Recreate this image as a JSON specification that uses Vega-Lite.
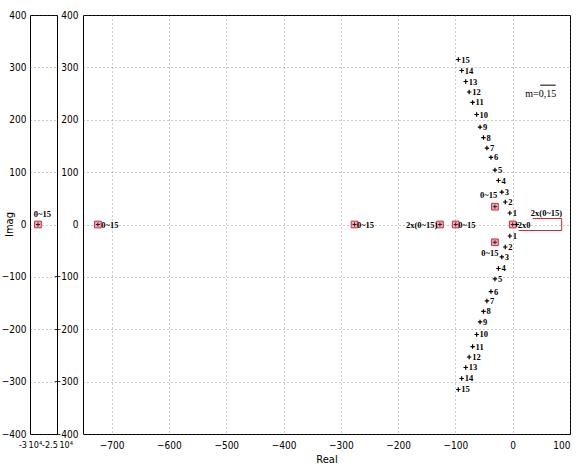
{
  "$schema": "https://vega.github.io/schema/vega-lite/v6.json",
  "background": "white",
  "padding": {"left": 0, "top": 9, "right": 0, "bottom": 0},
  "bounds": "flush",
  "spacing": 26,
  "config": {
    "view": {"stroke": "black", "strokeWidth": 1},
    "axis": {
      "labelFont": "Liberation Sans Narrow, DejaVu Sans Condensed, Arial Narrow, sans-serif", "labelFontSize": 10, "labelColor": "black",
      "titleFont": "Liberation Sans Narrow, DejaVu Sans Condensed, Arial Narrow, sans-serif", "titleFontSize": 11, "titleFontWeight": "normal", "titleColor": "black",
      "domain": false, "grid": true, "gridColor": "#555", "gridDash": [1, 3], "gridWidth": 1, "gridOpacity": 0.6,
      "ticks": false, "labelPadding": 5
    },
    "text": {"font": "Liberation Serif", "fontWeight": "bold", "fontSize": 8.5}
  },
  "datasets": {
    "leftPole": [{"x": -28519, "y": 0}],
    "leftLabel": [{"x": -27700, "y": 21, "t": "0~15"}],
    "poles": [
      {"x": -724, "y": 0}, {"x": -276, "y": 0}, {"x": -127, "y": 0}, {"x": -99.5, "y": 0},
      {"x": -31, "y": 34}, {"x": -31, "y": -34}, {"x": 0, "y": 0}
    ],
    "annot": [
      {"x": -703, "y": 0, "t": "0~15"}, {"x": -257, "y": 0, "t": "0~15"},
      {"x": -159, "y": 0, "t": "2x(0~15)"}, {"x": -80, "y": 0, "t": "0~15"},
      {"x": -42, "y": 57, "t": "0~15"}, {"x": -40, "y": -55, "t": "0~15"},
      {"x": 20, "y": 0, "t": "2x0"}, {"x": 59, "y": 22, "t": "2x(0~15)"}
    ],
    "locus": [
      {"x": 7, "y": 0, "k": ""},
      {"x": -5, "y": 22, "k": "1"}, {"x": -13, "y": 43, "k": "2"}, {"x": -19, "y": 62, "k": "3"},
      {"x": -25, "y": 84, "k": "4"}, {"x": -31, "y": 104, "k": "5"}, {"x": -38, "y": 128, "k": "6"},
      {"x": -45, "y": 146, "k": "7"}, {"x": -51, "y": 166, "k": "8"}, {"x": -57, "y": 186, "k": "9"},
      {"x": -63, "y": 210, "k": "10"}, {"x": -70, "y": 233, "k": "11"}, {"x": -76, "y": 253, "k": "12"},
      {"x": -82, "y": 273, "k": "13"}, {"x": -89, "y": 294, "k": "14"}, {"x": -95, "y": 315, "k": "15"},
      {"x": -5, "y": -22, "k": "1"}, {"x": -13, "y": -43, "k": "2"}, {"x": -19, "y": -62, "k": "3"},
      {"x": -25, "y": -84, "k": "4"}, {"x": -31, "y": -104, "k": "5"}, {"x": -38, "y": -128, "k": "6"},
      {"x": -45, "y": -146, "k": "7"}, {"x": -51, "y": -166, "k": "8"}, {"x": -57, "y": -186, "k": "9"},
      {"x": -63, "y": -210, "k": "10"}, {"x": -70, "y": -233, "k": "11"}, {"x": -76, "y": -253, "k": "12"},
      {"x": -82, "y": -273, "k": "13"}, {"x": -89, "y": -294, "k": "14"}, {"x": -95, "y": -315, "k": "15"}
    ],
    "callout": [
      {"x": 10.5, "y": -11.5, "o": 0}, {"x": 85.5, "y": -11.5, "o": 1},
      {"x": 85.5, "y": 11.5, "o": 2}, {"x": 35, "y": 11.5, "o": 3}
    ],
    "mText": [{"x": 49, "y": 250, "t": "m=0,15"}],
    "overline": [{"x": 48, "y": 266, "o": 0}, {"x": 75, "y": 266, "o": 1}]
  },
  "hconcat": [
    {
      "width": 27,
      "height": 419,
      "encoding": {
        "x": {"field": "x", "type": "quantitative",
          "scale": {"domain": [-30000, -25000], "nice": false, "zero": false},
          "axis": {"values": [-30000, -25000], "grid": false, "title": null, "labelFontSize": 9,
            "labelExpr": "datum.value == -30000 ? '-3\u200910⁴' : '-2.5\u200910⁴'", "labelFlush": false, "labelOverlap": false, "labelPadding": 6}},
        "y": {"field": "y", "type": "quantitative",
          "scale": {"domain": [-400, 400], "nice": false},
          "axis": {"values": [-400, -300, -200, -100, 0, 100, 200, 300, 400], "title": "Imag",
            "titleAngle": -90, "titleX": -16, "titleY": 209, "labelPadding": 4}}
      },
      "layer": [
        {"data": {"name": "leftPole"},
          "mark": {"type": "point", "shape": "square", "filled": true, "fill": "#f0aab2", "stroke": "#c83040", "strokeWidth": 1, "size": 45, "opacity": 1}},
        {"data": {"name": "leftPole"},
          "mark": {"type": "point", "shape": "M-1,0L1,0M0,-1L0,1", "filled": false, "stroke": "#222", "strokeWidth": 1, "size": 16, "opacity": 1}},
        {"data": {"name": "leftLabel"},
          "mark": {"type": "text", "align": "center", "baseline": "middle", "fill": "black"},
          "encoding": {"text": {"field": "t"}}}
      ]
    },
    {
      "width": 487,
      "height": 419,
      "encoding": {
        "x": {"field": "x", "type": "quantitative",
          "scale": {"domain": [-750, 100], "nice": false, "zero": false},
          "axis": {"values": [-700, -600, -500, -400, -300, -200, -100, 0, 100], "title": "Real", "titlePadding": 3, "labelPadding": 6}},
        "y": {"field": "y", "type": "quantitative",
          "scale": {"domain": [-400, 400], "nice": false},
          "axis": {"values": [-400, -300, -200, -100, 0, 100, 200, 300, 400], "title": null}}
      },
      "layer": [
        {"data": {"name": "callout"},
          "mark": {"type": "line", "stroke": "#d42030", "strokeWidth": 1},
          "encoding": {"order": {"field": "o"}}},
        {"data": {"name": "overline"},
          "mark": {"type": "line", "stroke": "black", "strokeWidth": 1},
          "encoding": {"order": {"field": "o"}}},
        {"data": {"name": "poles"},
          "mark": {"type": "point", "shape": "square", "filled": true, "fill": "#f0aab2", "stroke": "#c83040", "strokeWidth": 1, "size": 45, "opacity": 1}},
        {"data": {"name": "poles"},
          "mark": {"type": "point", "shape": "M-1,0L1,0M0,-1L0,1", "filled": false, "stroke": "#222", "strokeWidth": 1, "size": 16, "opacity": 1}},
        {"data": {"name": "locus"},
          "mark": {"type": "point", "shape": "M-1,0L1,0M0,-1L0,1", "filled": false, "stroke": "black", "strokeWidth": 1.2, "size": 20, "opacity": 1}},
        {"data": {"name": "locus"},
          "mark": {"type": "text", "align": "left", "baseline": "middle", "dx": 3, "fill": "black"},
          "encoding": {"text": {"field": "k"}}},
        {"data": {"name": "annot"},
          "mark": {"type": "text", "align": "center", "baseline": "middle", "fill": "black"},
          "encoding": {"text": {"field": "t"}}},
        {"data": {"name": "mText"},
          "mark": {"type": "text", "align": "center", "baseline": "middle", "fontWeight": "normal", "fontSize": 10, "fill": "black"},
          "encoding": {"text": {"field": "t"}}}
      ]
    }
  ]
}
